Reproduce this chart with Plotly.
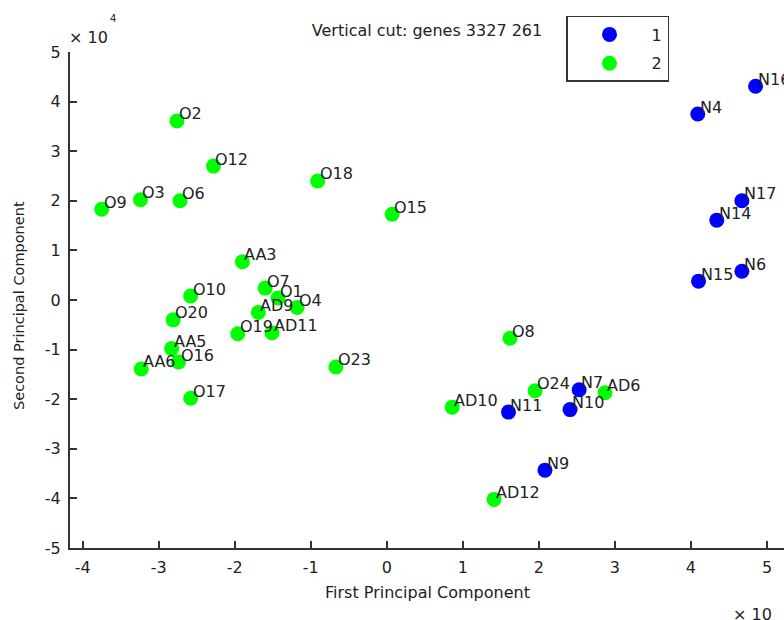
import plotly.graph_objects as go

# Sample names and their scores on the first two principal components (units of 1e4)
group1_names = ["N16", "N4", "N17", "N14", "N6", "N15", "N7", "N11", "N10", "N9"]
group1_pc1 = [4.85, 4.09, 4.67, 4.34, 4.67, 4.10, 2.53, 1.60, 2.41, 2.08]
group1_pc2 = [4.31, 3.75, 2.00, 1.61, 0.58, 0.38, -1.81, -2.26, -2.21, -3.43]

group2_names = ["O2", "O12", "O18", "O9", "O3", "O6", "O15", "AA3", "O7", "O1",
                "AD9", "O4", "O10", "O20", "O19", "AD11", "O23", "AA6", "AA5", "O16",
                "O17", "O8", "O24", "AD6", "AD10", "AD12"]
group2_pc1 = [-2.76, -2.28, -0.91, -3.75, -3.24, -2.72, 0.07, -1.90, -1.60, -1.43,
              -1.69, -1.18, -2.58, -2.81, -1.96, -1.51, -0.67, -3.23, -2.83, -2.74,
              -2.58, 1.62, 1.95, 2.87, 0.86, 1.41]
group2_pc2 = [3.61, 2.70, 2.40, 1.83, 2.02, 2.00, 1.73, 0.77, 0.24, 0.04,
              -0.25, -0.15, 0.08, -0.40, -0.68, -0.66, -1.35, -1.39, -0.98, -1.25,
              -1.98, -0.77, -1.83, -1.87, -2.16, -4.02]

x_ticks = [-4, -3, -2, -1, 0, 1, 2, 3, 4, 5]
x_tick_text = ["-4", "-3", "-2", "-1", "0", "1", "2", "3", "4", "5"]
y_ticks = [-5, -4, -3, -2, -1, 0, 1, 2, 3, 4, 5]
y_tick_text = ["-5", "-4", "-3", "-2", "-1", "0", "1", "2", "3", "4", "5"]

FONT = "DejaVu Sans"
INK = "#222222"
AXIS = "#333333"

fig = go.Figure()
fig.add_trace(go.Scatter(x=group1_pc1, y=group1_pc2, mode="markers", name="1",
                         legendgroup="1",
                         marker=dict(color="#0000ff", size=15, line=dict(width=0))))
fig.add_trace(go.Scatter(x=group2_pc1, y=group2_pc2, mode="markers", name="2",
                         legendgroup="2",
                         marker=dict(color="#00ff00", size=15, line=dict(width=0))))

annotations = []
for names, xs, ys in [(group1_names, group1_pc1, group1_pc2),
                      (group2_names, group2_pc1, group2_pc2)]:
    for n, x, y in zip(names, xs, ys):
        annotations.append(dict(x=x, y=y, xref="x", yref="y", text=n, showarrow=False,
                                xanchor="left", yanchor="middle", xshift=0, yshift=7,
                                font=dict(family=FONT, size=16, color=INK)))

# Axis titles and exponent markers
annotations += [
    dict(text="First Principal Component", x=0.5, y=-0.0907, xref="paper", yref="paper",
         xanchor="center", yanchor="middle", showarrow=False,
         font=dict(family=FONT, size=16, color=INK)),
    dict(text="Second Principal Component", x=-0.0714, y=0.488, xref="paper", yref="paper",
         xanchor="center", yanchor="middle", textangle=-90, showarrow=False,
         font=dict(family=FONT, size=14.5, color=INK)),
    dict(text="× 10", x=-0.004, y=1.0302, xref="paper", yref="paper",
         xanchor="left", yanchor="middle", showarrow=False,
         font=dict(family=FONT, size=16, color=INK)),
    dict(text="4", x=0.0532, y=1.0685, xref="paper", yref="paper",
         xanchor="left", yanchor="middle", showarrow=False,
         font=dict(family=FONT, size=10, color=INK)),
    dict(text="× 10", x=0.9258, y=-0.1331, xref="paper", yref="paper",
         xanchor="left", yanchor="middle", showarrow=False,
         font=dict(family=FONT, size=16, color=INK)),
    dict(text="4", x=0.9972, y=-0.0988, xref="paper", yref="paper",
         xanchor="left", yanchor="middle", showarrow=False,
         font=dict(family=FONT, size=10, color=INK)),
]

fig.update_layout(
    width=784, height=620,
    margin=dict(l=70, r=0, t=52, b=72),
    paper_bgcolor="white", plot_bgcolor="white",
    font=dict(family=FONT, size=16, color=INK),
    title=dict(text="Vertical cut: genes 3327 261", x=0.5, xref="paper",
               y=1 - 30 / 620, yref="container", xanchor="center", yanchor="middle",
               font=dict(family=FONT, size=16, color=INK)),
    showlegend=True,
    legend=dict(x=0.6947, y=1.0726, xanchor="left", yanchor="top",
                bordercolor=AXIS, borderwidth=1.5, bgcolor="white",
                traceorder="grouped", tracegroupgap=5,
                font=dict(family=FONT, size=16, color=INK), itemwidth=74),
    annotations=annotations,
)
fig.update_xaxes(range=[-4.167, 5.224], tickvals=x_ticks, ticktext=x_tick_text,
                 showgrid=False, zeroline=False, showline=True, linecolor=AXIS, linewidth=2,
                 ticks="inside", ticklen=7, tickwidth=1.5, tickcolor=AXIS,
                 ticklabelstandoff=4, mirror=False)
fig.update_yaxes(range=[-5, 5], tickvals=y_ticks, ticktext=y_tick_text,
                 showgrid=False, zeroline=False, showline=True, linecolor=AXIS, linewidth=2,
                 ticks="inside", ticklen=7, tickwidth=1.5, tickcolor=AXIS,
                 ticklabelstandoff=4, mirror=False)

fig.write_html("out.html")
